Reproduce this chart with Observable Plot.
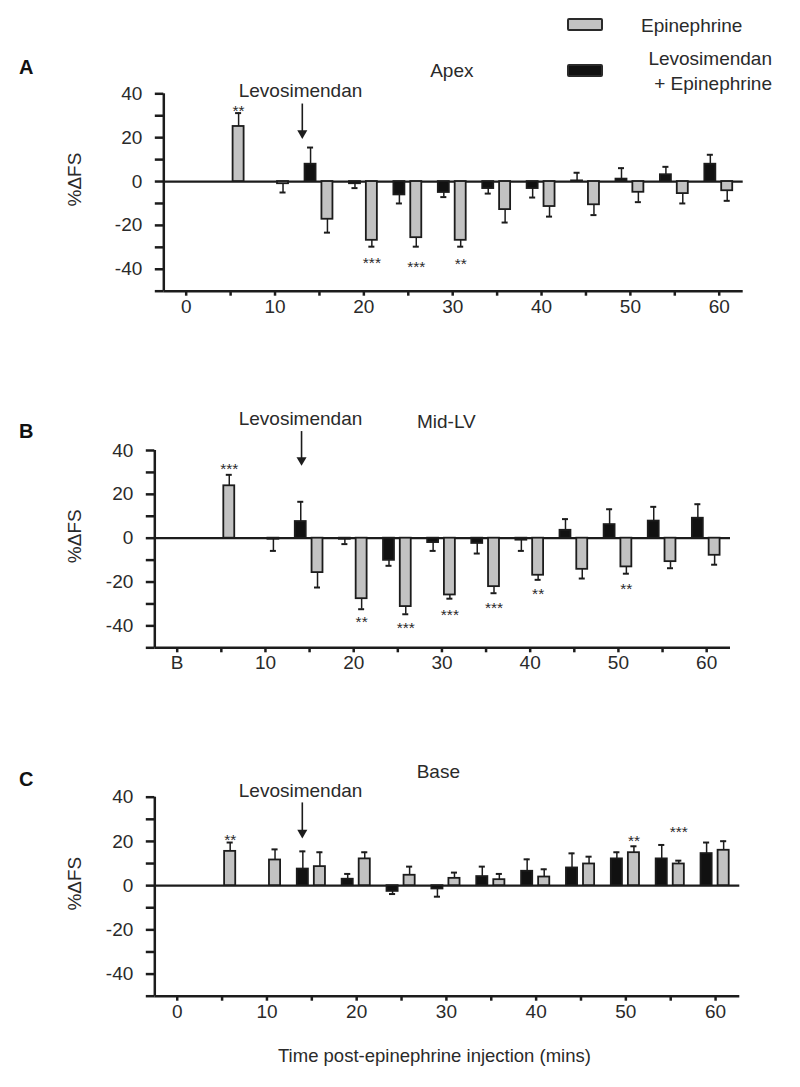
<!DOCTYPE html>
<html><head><meta charset="utf-8">
<script src="https://cdn.jsdelivr.net/npm/d3@7"></script>
<script src="https://cdn.jsdelivr.net/npm/@observablehq/plot@0.6"></script>
<style>
body{margin:0;background:#fff;font-family:"Liberation Sans",Arial,sans-serif;color:#2a2a2a;}
#wrap{position:relative;width:800px;height:1087px;overflow:hidden;background:#fff;}
.panel{position:absolute;left:0;}
.panel svg{overflow:visible;}
.t{position:absolute;white-space:nowrap;line-height:1;}
.sw{position:absolute;width:32px;height:9px;border:2px solid #2a2a2a;border-radius:2px;}
</style></head><body><div id="wrap"></div>
<script>
// ---- data ----
const times = [0, 5, 10, 15, 20, 25, 30, 35, 40, 45, 50, 55, 60];
const xTicks = [0, 5, 10, 15, 20, 25, 30, 35, 40, 45, 50, 55, 60];
const xTickLabels = ["0", "", "10", "", "20", "", "30", "", "40", "", "50", "", "60"];
const xTickLabelsB = ["B", "", "10", "", "20", "", "30", "", "40", "", "50", "", "60"];
const yTicks = [-50, -40, -30, -20, -10, 0, 10, 20, 30, 40];
const yTickLabels = ["", "-40", "", "-20", "", "0", "", "20", "", "40"];
const seriesNames = ["Epinephrine", "Levosimendan + Epinephrine"];

// Apex
const apexEpi     = [null, 25.1, -1.0, -17.2, -26.8, -25.6, -26.8, -12.8, -11.4, -10.6, -4.9, -5.5, -4.2];
const apexEpiSem  = [null, 6.1, 4.0, 6.1, 2.9, 4.1, 2.9, 5.9, 4.6, 4.7, 4.5, 4.5, 4.6];
const apexLevo    = [null, null, null, 7.9, -1.0, -6.1, -5.0, -3.2, -3.2, 0.3, 1.1, 3.1, 7.9];
const apexLevoSem = [null, null, null, 7.6, 2.0, 3.9, 2.1, 2.3, 4.1, 3.7, 5.0, 3.6, 4.3];
const apexStarT = [5, 20, 25, 30];
const apexStarText = ["**", "***", "***", "**"];
const apexStarY = [34.1, -35.4, -37.0, -35.8];

// Mid-LV
const midEpi     = [0, 23.9, -0.5, -15.7, -27.6, -31.2, -25.9, -22.1, -16.9, -14.2, -13.1, -10.7, -7.8];
const midEpiSem  = [0, 5.0, 5.3, 6.8, 4.8, 3.5, 1.7, 3.0, 2.1, 4.2, 3.1, 3.0, 4.3];
const midLevo    = [0, 0, 0, 7.6, -0.5, -10.1, -2.0, -2.4, -0.9, 3.6, 6.2, 7.8, 9.1];
const midLevoSem = [0, 0, 0, 9.0, 2.2, 2.5, 3.8, 4.6, 4.9, 5.1, 7.0, 6.5, 6.4];
const midStarT = [5, 20, 25, 30, 35, 40, 50];
const midStarText = ["***", "**", "***", "***", "***", "**", "**"];
const midStarY = [33.3, -36.5, -39.0, -33.2, -30.1, -23.7, -21.5];

// Base
const baseEpi     = [null, 15.5, 11.6, 8.6, 12.1, 4.7, 3.3, 2.7, 3.9, 9.8, 14.9, 9.8, 16.0];
const baseEpiSem  = [null, 4.0, 4.8, 6.5, 3.0, 3.9, 2.6, 2.6, 3.5, 3.3, 2.9, 1.5, 4.1];
const baseLevo    = [0, null, null, 7.5, 2.9, -2.6, -1.5, 4.1, 6.5, 8.0, 12.1, 12.1, 14.5];
const baseLevoSem = [0, null, null, 8.0, 2.4, 1.2, 3.5, 4.5, 5.4, 6.6, 3.0, 6.3, 5.0];
const baseStarT = [5, 50, 55];
const baseStarText = ["**", "**", "***"];
const baseStarY = [22.6, 22.2, 25.9];

// annotations (data units)
const titles = ["Apex", "Mid-LV", "Base"];
const titleX = [29.9, 30.5, 29.1];
const titleY = [50.5, 53.2, 51.3];
const levoLabelX = [12.87, 13.97, 13.75];
const levoLabelY = [41.4, 54.6, 43.0];
const arrowX = [13.07, 14.09, 13.94];
const arrowTop = [32.6, 45.9, 34.7];
const arrowTip = [19.4, 33.0, 21.3];

// ---- style ----
const GRAY = "#c2c2c2", BLACK = "#111111", INK = "#1c1c1c", TXT = "#2a2a2a";
const FONT = "'Liberation Sans', Arial, sans-serif";
const OFF_EPI = 0.9, OFF_LEVO = -1.0, HALF_W = 0.62, CAP = 0.34;

function rowsOf(epi, epiSem, levo, levoSem) {
  const rows = [];
  times.forEach((t, i) => {
    if (levo[i] != null) rows.push({series: seriesNames[1], x: t + OFF_LEVO, v: levo[i], e: levoSem[i]});
    if (epi[i] != null) rows.push({series: seriesNames[0], x: t + OFF_EPI, v: epi[i], e: epiSem[i]});
  });
  rows.forEach(r => { r.end = r.v + Math.sign(r.v) * r.e; });
  return rows;
}

function panel(k, cfg) {
  const rows = rowsOf(cfg.epi, cfg.epiSem, cfg.levo, cfg.levoSem);
  const errs = rows.filter(r => r.e > 0 && r.v !== 0);
  const stars = cfg.starT.map((t, i) => ({x: t + OFF_EPI, y: cfg.starY[i], s: cfg.starText[i]}));
  const xd = cfg.xDomain;
  const labels = cfg.xLabels;
  return Plot.plot({
    width: 800, height: cfg.height,
    marginTop: cfg.mt, marginBottom: cfg.mb, marginLeft: cfg.ml, marginRight: cfg.mr,
    x: {type: "linear", domain: xd},
    y: {type: "linear", domain: [-50, 40]},
    style: {fontFamily: FONT, fontSize: "19px", color: TXT, background: "transparent", overflow: "visible"},
    marks: [
      Plot.axisY({ticks: yTicks, tickFormat: d => yTickLabels[yTicks.indexOf(d)], tickSize: 8.5, tickPadding: 13,
                  strokeWidth: 2.5, stroke: INK, fontSize: 19, label: null}),
      Plot.axisX({ticks: xTicks, tickFormat: d => labels[xTicks.indexOf(d)], tickSize: 5, tickPadding: 3,
                  strokeWidth: 2.5, stroke: INK, fontSize: 19, label: null}),
      Plot.ruleX([xd[0]], {y1: -50, y2: 40, stroke: INK, strokeWidth: 2.5}),
      Plot.ruleY([-50], {x1: xd[0], x2: xd[1], stroke: INK, strokeWidth: 2.5}),
      Plot.ruleY([0], {x1: xd[0], x2: xd[1], stroke: INK, strokeWidth: 2.2}),
      Plot.ruleX(errs, {x: "x", y1: "v", y2: "end", stroke: INK, strokeWidth: 1.5}),
      Plot.ruleY(errs, {y: "end", x1: d => d.x - CAP, x2: d => d.x + CAP, stroke: INK, strokeWidth: 2}),
      Plot.rect(rows, {x1: d => d.x - HALF_W, x2: d => d.x + HALF_W, y1: 0, y2: "v",
                       fill: d => d.series === seriesNames[0] ? GRAY : BLACK, stroke: INK, strokeWidth: 1.8}),
      Plot.text(stars, {x: "x", y: "y", text: "s", fontSize: 15.5, lineAnchor: "middle", dy: 4, fill: TXT}),
      Plot.text([titles[k]], {x: titleX[k], y: titleY[k], text: d => d, fontSize: 19, lineAnchor: "middle", fill: TXT}),
      Plot.text(["Levosimendan"], {x: levoLabelX[k], y: levoLabelY[k], text: d => d, fontSize: 19, lineAnchor: "middle", fill: TXT}),
      Plot.ruleX([arrowX[k]], {y1: arrowTop[k], y2: arrowTip[k], stroke: INK, strokeWidth: 1.6, dy: -6}),
      Plot.dot([arrowX[k]], {x: d => d, y: arrowTip[k], symbol: "triangle2", r: 4.8, rotate: 180, fill: INK, stroke: "none", dy: -5.8}),
      Plot.text(["%ΔFS"], {x: xd[0], y: 0, text: d => d, rotate: -90, dx: cfg.ylabDx, dy: -2, fontSize: 19, fill: TXT})
    ]
  });
}

const wrap = document.getElementById("wrap");
const cfgs = [
  {top: 0, height: 330, mt: 93.3, mb: 39.3, ml: 163.3, mr: 57.3, xDomain: [-2.52, 62.7], xLabels: xTickLabels,
   epi: apexEpi, epiSem: apexEpiSem, levo: apexLevo, levoSem: apexLevoSem,
   starT: apexStarT, starText: apexStarText, starY: apexStarY, ylabDx: -89},
  {top: 360, height: 330, mt: 90, mb: 42.7, ml: 154.3, mr: 70, xDomain: [-2.54, 62.7], xLabels: xTickLabelsB,
   epi: midEpi, epiSem: midEpiSem, levo: midLevo, levoSem: midLevoSem,
   starT: midStarT, starText: midStarText, starY: midStarY, ylabDx: -80},
  {top: 710, height: 340, mt: 86.7, mb: 54.3, ml: 154.3, mr: 60.7, xDomain: [-2.5, 62.7], xLabels: xTickLabels,
   epi: baseEpi, epiSem: baseEpiSem, levo: baseLevo, levoSem: baseLevoSem,
   starT: baseStarT, starText: baseStarText, starY: baseStarY, ylabDx: -80}
];
cfgs.forEach((c, k) => {
  const d = document.createElement("div");
  d.className = "panel"; d.style.top = c.top + "px";
  d.appendChild(panel(k, c));
  wrap.appendChild(d);
});

// panel letters, legend, x label (HTML overlays)
function addText(txt, left, top, size, extra) {
  const e = document.createElement("div");
  e.className = "t"; e.textContent = txt;
  e.style.left = left + "px"; e.style.top = top + "px"; e.style.fontSize = size + "px";
  if (extra) Object.assign(e.style, extra);
  wrap.appendChild(e);
  return e;
}
const panelLetters = ["A", "B", "C"];
const letterTop = [57, 421, 769];
panelLetters.forEach((L, i) => addText(L, 19, letterTop[i], 20, {fontWeight: "bold", color: "#111"}));

const sw1 = document.createElement("div"); sw1.className = "sw";
Object.assign(sw1.style, {left: "567px", top: "18px", background: GRAY}); wrap.appendChild(sw1);
const sw2 = document.createElement("div"); sw2.className = "sw";
Object.assign(sw2.style, {left: "567px", top: "64px", background: BLACK}); wrap.appendChild(sw2);
addText(seriesNames[0], 641, 16, 19);
addText("Levosimendan", 0, 49, 19, {left: "auto", right: (800 - 772) + "px"});
addText("+ Epinephrine", 0, 74, 19, {left: "auto", right: (800 - 772) + "px"});
addText("Time post-epinephrine injection (mins)", 0, 1047, 18.5, {left: "278px"});
</script></body></html>
